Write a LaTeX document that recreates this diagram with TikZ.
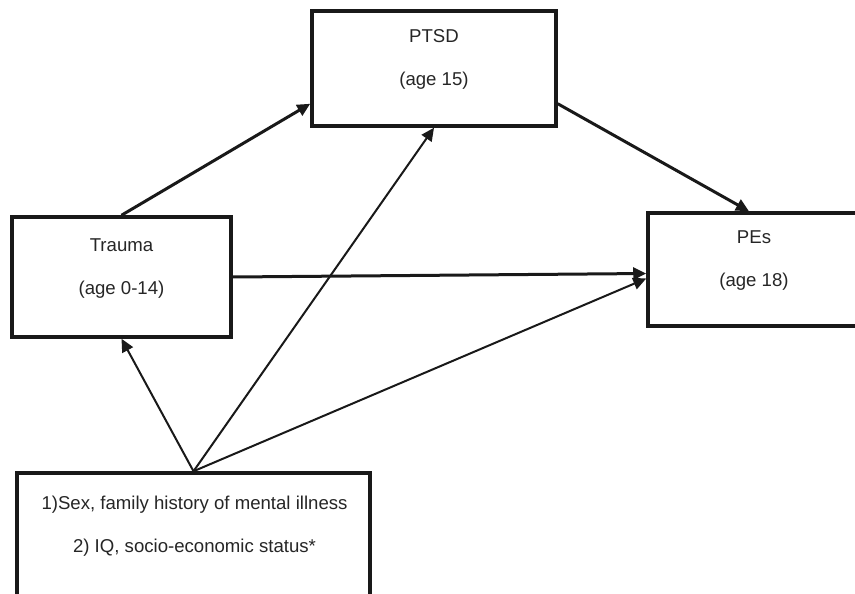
\documentclass[tikz,border=0pt]{standalone}
\usepackage{fontspec}
\setmainfont{Liberation Sans}
\usetikzlibrary{positioning, arrows.meta}

\tikzset{
  box/.style={draw=black!90, line width=3.5pt, fill=white},
  boxtext/.style={align=center, inner sep=0pt, font=\fontsize{18.6}{43}\selectfont, text=black!85},
  path/.style={draw=black!90, line width=3pt, -{Triangle[length=13pt, width=12pt]}},
  thinpath/.style={draw=black!90, line width=2pt, -{Triangle[length=13pt, width=12pt]}}
}

\begin{document}
\begin{tikzpicture}[x=1pt, y=-1pt]
    \useasboundingbox (0,0) rectangle (855,594);
    \clip (0,0) rectangle (855,594);
    % boxes
    \node[box, minimum width=244pt, minimum height=115pt] (ptsd) at (434,68.5) {};
    \node[box, minimum width=219pt, minimum height=120pt] (trauma) at (121.5,277) {};
    \node[box, minimum width=212pt, minimum height=113pt] (pes) at (754,269.5) {};
    \node[box, minimum width=353pt, minimum height=150pt] (covars) at (193.5,548) {};
    % texts
    \node[boxtext] (ptsdtxt) at (434,59) {PTSD\\(age 15)};
    \node[boxtext] (traumatxt) at (121.5,268.5) {Trauma\\(age 0-14)};
    \node[boxtext] (pestxt) at (754,261) {PEs\\(age 18)};
    \node[boxtext] (covarstxt) at (194.5,526) {1)Sex, family history of mental illness\\2) IQ, socio-economic status*};
    % paths
    \draw[path] (trauma.north) -- ([yshift=24pt]ptsd.south west);
    \draw[path] ([yshift=24pt]ptsd.south east) -- ([xshift=-5pt]pes.north);
    \draw[path] (trauma.east) -- ([yshift=-4pt]pes.west);
    \draw[thinpath] (covars.north) -- (trauma.south);
    \draw[thinpath] (covars.north) -- (ptsd.south);
    \draw[thinpath] (covars.north) -- ([yshift=-9pt]pes.west);
\end{tikzpicture}
\end{document}
